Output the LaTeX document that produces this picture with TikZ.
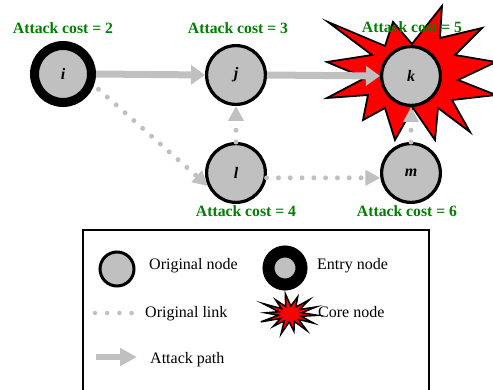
\documentclass[tikz,border=0pt]{standalone}
\usepackage{fontspec}
\setmainfont{Liberation Serif}
\usetikzlibrary{arrows.meta}
\definecolor{silv}{RGB}{192,192,192}
\definecolor{dotgray}{RGB}{192,192,192}
\definecolor{costgreen}{RGB}{0,128,0}
\definecolor{corered}{RGB}{255,0,0}
\begin{document}
\begin{tikzpicture}[x=1pt,y=-1pt,
  orignode/.style={circle, draw=black, line width=3.2pt, fill=silv, minimum size=58.8pt, inner sep=0pt,
    font=\fontsize{16}{18}\selectfont\bfseries\itshape},
  entrynode/.style={circle, draw=black, line width=9pt, fill=silv, minimum size=57pt, inner sep=0pt,
    font=\fontsize{16}{18}\selectfont\bfseries\itshape},
  costlabel/.style={text=costgreen, anchor=base, inner sep=0pt, font=\fontsize{15.7}{18}\selectfont\bfseries},
  attackpath/.style={draw=silv, line width=7pt, -{Triangle[length=14pt,width=19pt,fill=silv]}},
  origlink/.style={draw=dotgray, line width=5pt, line cap=round, dash pattern=on 0pt off 11.8pt,
    -{Triangle[length=15pt,width=15pt,fill=dotgray]}},
  legenddots/.style={draw=dotgray, line width=4.5pt, line cap=round, dash pattern=on 0pt off 12.2pt},
  corestar/.style={draw=black, line width=1.8pt, fill=corered, line join=miter},
  legendtext/.style={anchor=base west, inner sep=0pt, font=\fontsize{16}{18}\selectfont},
  legendbox/.style={draw=black, line width=1.3pt}]
\useasboundingbox (0,0) rectangle (493,390);
\clip (0,0) rectangle (493,390);

% core-node starburst behind k
\draw[corestar] (327,62) -- (372,55) -- (328,22) -- (385,46) -- (393,22) -- (412,44)
  -- (442,6) -- (440,38) -- (482,28) -- (455,55) -- (496,62) -- (458,80) -- (496,95)
  -- (452,100) -- (470,132) -- (438,108) -- (435,140) -- (413,108) -- (395,140)
  -- (385,108) -- (363,120) -- (368,95) -- (327,98) -- (365,78) -- cycle;

% nodes
\node[entrynode] (i) at (63,74) {i};
\node[orignode] (j) at (236,75) {j};
\node[orignode] (k) at (411,76) {k};
\node[orignode] (l) at (236,173) {l};
\node[orignode] (m) at (411,173) {m};

% connectors
\draw[attackpath] (i.east) -- (j.west);
\draw[attackpath] (j.east) -- (k.west);
\draw[origlink, shorten <=6pt] (i.-20) -- (l.-155);
\draw[origlink] (l.north) -- (j.south);
\draw[origlink] (l.-9) -- (m.-171);
\draw[origlink] (m.north) -- (k.south);

% cost labels
\node[costlabel] (ci) at (63,33.5) {Attack cost = 2};
\node[costlabel] (cj) at (238,33.5) {Attack cost = 3};
\node[costlabel] (ck) at (412,33) {Attack cost = 5};
\node[costlabel] (cl) at (246,216.5) {Attack cost = 4};
\node[costlabel] (cm) at (407,216.5) {Attack cost = 6};

% legend
\draw[legendbox] (83,230) rectangle (429,393);
\node[orignode, line width=3pt, minimum size=34pt] (lgo) at (117,269) {};
\node[legendtext] (lgot) at (149,270) {Original node};
\node[entrynode, line width=12pt, minimum size=33pt] (lge) at (285,268) {};
\node[legendtext] (lget) at (317,270) {Entry node};
\coordinate (lla) at (95,313);
\coordinate (llb) at (132,313);
\draw[legenddots] (lla) -- (llb);
\node[legendtext] (llt) at (145,318) {Original link};
\draw[corestar, line width=1.5pt, shift={(290,314)}, xscale=28, yscale=19]
  plot[samples at={0,...,27}] ({\x*360/28+4}:{ifthenelse(mod(\x,2)==0, 1+0.12*sin(\x*97), 0.42)}) -- cycle;
\node[legendtext] (lct) at (318,318) {Core node};
\coordinate (lpa) at (96,357);
\coordinate (lpb) at (137,357);
\draw[attackpath, line width=6pt, -{Triangle[length=17pt,width=17pt,fill=silv]}] (lpa) -- (lpb);
\node[legendtext] (lpt) at (150,363) {Attack path};
\end{tikzpicture}
\end{document}
